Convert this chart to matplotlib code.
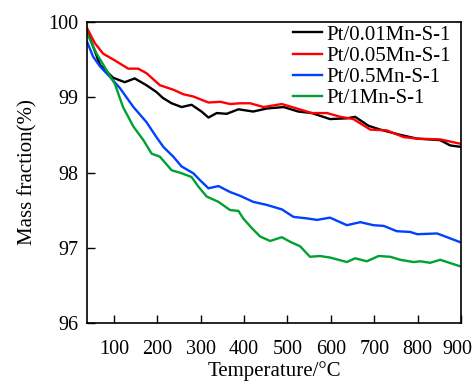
import matplotlib
matplotlib.use("Agg")
import matplotlib.pyplot as plt
import matplotlib.transforms as mtransforms

plt.rcParams['font.family'] = ['Liberation Serif', 'DejaVu Serif']
plt.rcParams['mathtext.fontset'] = 'stix'

labels = ["Pt/0.01Mn-S-1", "Pt/0.05Mn-S-1", "Pt/0.5Mn-S-1", "Pt/1Mn-S-1"]
colors = ["#000000", "#ff0000", "#0040ff", "#00a032"]

t_black = [38, 68, 98, 125, 148, 175, 198, 213, 233, 256, 279, 302, 318, 337, 360, 387,
           421, 452, 491, 525, 556, 598, 637, 656, 687, 714, 760, 799, 852, 875, 900]
m_black = [99.89, 99.43, 99.26, 99.20, 99.25, 99.16, 99.07, 98.99, 98.92, 98.87, 98.90, 98.81, 98.73, 98.79, 98.78, 98.84,
           98.81, 98.85, 98.87, 98.81, 98.79, 98.71, 98.72, 98.74, 98.62, 98.57, 98.50, 98.45, 98.43, 98.36, 98.34]

t_red = [38, 56, 75, 102, 133, 156, 175, 206, 237, 260, 283, 318, 345, 368, 391, 414, 445, 487,
         522, 556, 591, 622, 652, 691, 729, 768, 799, 852, 900]
m_red = [99.92, 99.72, 99.58, 99.49, 99.38, 99.38, 99.32, 99.16, 99.10, 99.04, 99.01, 98.93, 98.94, 98.91, 98.92, 98.92, 98.87, 98.91,
         98.85, 98.79, 98.79, 98.74, 98.71, 98.57, 98.56, 98.47, 98.45, 98.44, 98.38]

t_blue = [38, 52, 68, 91, 114, 145, 175, 198, 214, 237, 256, 283, 298, 318, 341, 368, 391, 421, 452, 487,
          514, 545, 568, 598, 637, 668, 698, 722, 752, 783, 799, 845, 868, 900]
m_blue = [99.74, 99.54, 99.41, 99.27, 99.12, 98.87, 98.67, 98.47, 98.34, 98.21, 98.08, 97.99, 97.90, 97.79, 97.82, 97.74, 97.69, 97.61, 97.57, 97.51,
          97.41, 97.39, 97.37, 97.40, 97.30, 97.34, 97.30, 97.29, 97.22, 97.21, 97.18, 97.19, 97.14, 97.07]

t_green = [38, 60, 83, 102, 121, 145, 168, 187, 206, 233, 256, 279, 295, 314, 341, 368, 387, 398, 418, 437, 460, 487,
           506, 529, 552, 575, 598, 637, 656, 683, 710, 737, 760, 791, 806, 829, 852, 900]
m_green = [99.85, 99.58, 99.36, 99.18, 98.87, 98.61, 98.43, 98.25, 98.21, 98.03, 97.99, 97.94, 97.81, 97.68, 97.61, 97.50, 97.49, 97.39, 97.26, 97.15, 97.09, 97.14,
           97.08, 97.02, 96.88, 96.89, 96.87, 96.81, 96.86, 96.82, 96.89, 96.88, 96.84, 96.81, 96.82, 96.80, 96.84, 96.75]

x_ticks = [100, 200, 300, 400, 500, 600, 700, 800, 900]
y_ticks = [96, 97, 98, 99, 100]

fig = plt.figure(figsize=(4.75, 3.81), dpi=100)
ax = fig.add_axes([87/475, 1-323/381, (461-87)/475, (323-22)/381])

series = [(t_black, m_black), (t_red, m_red), (t_blue, m_blue), (t_green, m_green)]
for (t, m), lab, c in zip(series, labels, colors):
    ax.plot(t, m, color=c, lw=1.7, label=lab)

ax.set_xlim(38, 900)
ax.set_ylim(96, 100)
ax.set_xticks(x_ticks)
ax.set_yticks(y_ticks)
ax.tick_params(direction='in', length=5.5, width=1, labelsize=14.5,
               top=False, right=False)
ax.tick_params(axis='x', pad=12)
ax.tick_params(axis='y', pad=6)
for s in ax.spines.values():
    s.set_linewidth(1.2)

# nudge last x tick label slightly left so it stays inside the figure
fig.canvas.draw()
last = ax.get_xticklabels()[-1]
last.set_transform(last.get_transform() +
                   mtransforms.ScaledTranslation(-4/100, 0, fig.dpi_scale_trans))

ax.set_xlabel("Temperature/°C", fontsize=15, labelpad=2)
ax.set_ylabel("Mass fraction(%)", fontsize=15, labelpad=8)

ax.legend(loc='upper right', bbox_to_anchor=(0.978, 0.997), frameon=False,
          fontsize=15, handlelength=1.4, handletextpad=0.2, labelspacing=0.08,
          borderaxespad=0.0, borderpad=0.1)

fig.savefig("out.png", dpi=100)
